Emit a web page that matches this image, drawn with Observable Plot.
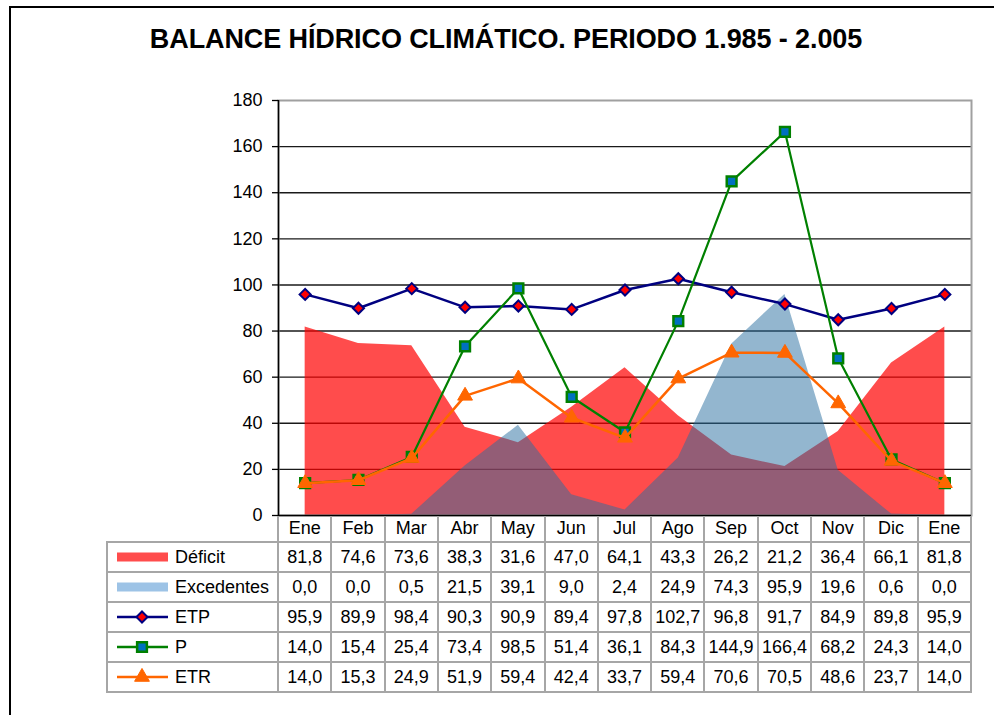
<!DOCTYPE html>
<html><head><meta charset="utf-8">
<script src="https://cdn.jsdelivr.net/npm/d3@7"></script>
<script src="https://cdn.jsdelivr.net/npm/@observablehq/plot@0.6"></script>
<style>
body{margin:0;background:#fff;font-family:"Liberation Sans",Arial,sans-serif;}
#wrap{position:relative;width:994px;height:715px;overflow:hidden;background:#fff;}
#frame{position:absolute;left:9px;top:6px;width:1000px;height:800px;border-top:2px solid #000;border-left:2px solid #000;}
#title{position:absolute;left:0;width:1012px;top:26px;line-height:27px;text-align:center;font-weight:bold;font-size:27px;color:#000;white-space:nowrap;letter-spacing:-0.1px;}
#chart{position:absolute;left:0;top:0;}
#table{position:absolute;left:0;top:0;width:994px;height:715px;}
.hl{position:absolute;height:2px;background:#a6a6a6;}
.vl{position:absolute;width:2px;background:#a6a6a6;}
.cell{position:absolute;display:flex;align-items:center;justify-content:center;font-size:18px;color:#000;white-space:nowrap;}
.lab{position:absolute;display:flex;align-items:center;font-size:18px;color:#000;white-space:nowrap;}
.sw{position:absolute;}
</style>
</head><body>
<div id="wrap">
  <div id="frame"></div>
  <div id="title">BALANCE HÍDRICO CLIMÁTICO. PERIODO 1.985 - 2.005</div>
  <div id="chart"></div>
  <div id="table"></div>
</div>
<script>
const meses = ["Ene","Feb","Mar","Abr","May","Jun","Jul","Ago","Sep","Oct","Nov","Dic","Ene"];
const deficit = [81.8,74.6,73.6,38.3,31.6,47.0,64.1,43.3,26.2,21.2,36.4,66.1,81.8];
const excedentes = [0.0,0.0,0.5,21.5,39.1,9.0,2.4,24.9,74.3,95.9,19.6,0.6,0.0];
const etp = [95.9,89.9,98.4,90.3,90.9,89.4,97.8,102.7,96.8,91.7,84.9,89.8,95.9];
const p = [14.0,15.4,25.4,73.4,98.5,51.4,36.1,84.3,144.9,166.4,68.2,24.3,14.0];
const etr = [14.0,15.3,24.9,51.9,59.4,42.4,33.7,59.4,70.6,70.5,48.6,23.7,14.0];
const yTicks = [0,20,40,60,80,100,120,140,160,180];
const seriesNames = ["Déficit","Excedentes","ETP","P","ETR"];

const data = meses.map((m,i)=>({i, m, deficit:deficit[i], excedentes:excedentes[i], etp:etp[i], p:p[i], etr:etr[i]}));

const RED = "#ff0000", BLUE = "rgb(40,110,160)", NAVY = "#000080", GREEN = "#008000", SQFILL = "#0070c0", ORANGE = "#ff6600";

const plot = Plot.plot({
  width: 994, height: 715,
  marginLeft: 278, marginRight: 23, marginTop: 100, marginBottom: 200,
  x: {type: "linear", domain: [-0.5, meses.length - 0.5], axis: null},
  y: {domain: [0, 180], axis: null},
  style: {fontFamily: "'Liberation Sans', Arial, sans-serif", fontSize: "18px", color: "#000", background: "transparent", overflow: "visible"},
  marks: [
    Plot.ruleY(yTicks.filter(v => v > 0 && v < 180), {stroke: "#1a1a1a", strokeWidth: 1.4}),
    Plot.areaY(data, {x: "i", y: "deficit", fill: RED, fillOpacity: 0.7}),
    Plot.areaY(data, {x: "i", y: "excedentes", fill: BLUE, fillOpacity: 0.5}),
    Plot.frame({stroke: "#a0a0a0", strokeWidth: 2}),
    Plot.ruleY([0], {stroke: "#000", strokeWidth: 1.5}),
    Plot.ruleX([-0.5], {stroke: "#000", strokeWidth: 1.5}),
    Plot.axisY({ticks: yTicks, tickSize: 6, tickPadding: 10, fontSize: 18, label: null, stroke: "#000", strokeWidth: 1.3}),
    Plot.line(data, {x: "i", y: "etp", stroke: NAVY, strokeWidth: 2.5}),
    Plot.dot(data, {x: "i", y: "etp", symbol: "diamond2", r: 5, fill: RED, stroke: NAVY, strokeWidth: 2}),
    Plot.line(data, {x: "i", y: "p", stroke: GREEN, strokeWidth: 2.2}),
    Plot.dot(data, {x: "i", y: "p", symbol: "square", r: 5.5, fill: SQFILL, stroke: GREEN, strokeWidth: 2.5}),
    Plot.line(data, {x: "i", y: "etr", stroke: ORANGE, strokeWidth: 2.5}),
    Plot.dot(data, {x: "i", y: "etr", symbol: "triangle", r: 5.5, fill: ORANGE, stroke: ORANGE, strokeWidth: 1})
  ]
});
document.getElementById("chart").appendChild(plot);

// Data table below the chart, aligned with the x scale
const xs = plot.scale("x");
const ys = plot.scale("y");
const tbl = d3.select("#table");
const y0 = Math.round(ys.apply(0));
const rowTops = [y0, y0 + 27, y0 + 57, y0 + 87, y0 + 117, y0 + 147, y0 + 177];
const left = 107;
const colX = d3.range(meses.length + 1).map(k => xs.apply(k - 0.5));
const fmt = v => v.toFixed(1).replace(".", ",");

rowTops.slice(1).forEach(y => {
  tbl.append("div").attr("class","hl").style("left", (left-1)+"px").style("top",(y-1)+"px").style("width",(colX[colX.length-1]-left+2)+"px");
});
tbl.append("div").attr("class","vl").style("left",(left-1)+"px").style("top",(rowTops[1]-1)+"px").style("height",(rowTops[6]-rowTops[1]+2)+"px");
colX.forEach((x,k) => {
  tbl.append("div").attr("class","vl").style("left",(x-1)+"px").style("top",(rowTops[0]+1)+"px").style("height",(rowTops[6]-rowTops[0])+"px");
});
meses.forEach((m,k) => {
  tbl.append("div").attr("class","cell").style("left",colX[k]+"px").style("width",(colX[k+1]-colX[k])+"px")
    .style("top",rowTops[0]+"px").style("height",(rowTops[1]-rowTops[0])+"px").text(m);
});
const rows = [deficit, excedentes, etp, p, etr];
rows.forEach((vals, r) => {
  vals.forEach((v,k) => {
    tbl.append("div").attr("class","cell").style("left",colX[k]+"px").style("width",(colX[k+1]-colX[k])+"px")
      .style("top",rowTops[r+1]+"px").style("height",(rowTops[r+2]-rowTops[r+1])+"px").text(fmt(v));
  });
  tbl.append("div").attr("class","lab").style("left",(left+68)+"px")
    .style("top",rowTops[r+1]+"px").style("height",(rowTops[r+2]-rowTops[r+1])+"px").text(seriesNames[r]);
  const cy = (rowTops[r+1]+rowTops[r+2])/2;
  const sw = tbl.append("svg").attr("class","sw").attr("width",60).attr("height",24)
    .style("left",(left+8)+"px").style("top",(cy-12)+"px");
  const g = sw.append("g").attr("transform","translate(2,12)");
  if (r === 0) g.append("rect").attr("x",0).attr("y",-4.5).attr("width",51).attr("height",9).attr("fill",RED).attr("fill-opacity",0.7);
  else if (r === 1) g.append("rect").attr("x",0).attr("y",-4.5).attr("width",51).attr("height",9).attr("fill","#9dc3e6");
  else {
    const col = [NAVY, GREEN, ORANGE][r-2];
    g.append("line").attr("x1",0).attr("x2",51).attr("y1",0).attr("y2",0).attr("stroke",col).attr("stroke-width",2.5);
    const cx = 25;
    if (r === 2) g.append("path").attr("d", d3.symbol(d3.symbolDiamond2, Math.PI*25)()).attr("transform",`translate(${cx},0)`).attr("fill",RED).attr("stroke",NAVY).attr("stroke-width",2);
    if (r === 3) g.append("path").attr("d", d3.symbol(d3.symbolSquare, Math.PI*5.5*5.5)()).attr("transform",`translate(${cx},0)`).attr("fill",SQFILL).attr("stroke",GREEN).attr("stroke-width",2.5);
    if (r === 4) g.append("path").attr("d", d3.symbol(d3.symbolTriangle, Math.PI*5.5*5.5)()).attr("transform",`translate(${cx},0)`).attr("fill",ORANGE).attr("stroke",ORANGE);
  }
});
</script>
</body></html>
